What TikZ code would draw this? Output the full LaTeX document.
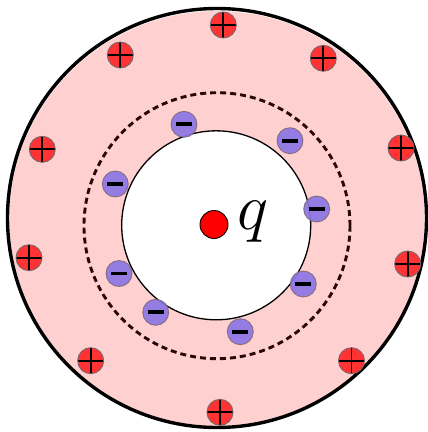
\documentclass[tikz,border=0pt]{standalone}
\usepackage{tikz}
\definecolor{shellpink}{RGB}{255,208,208}
\definecolor{chargered}{RGB}{255,51,51}
\definecolor{chargeblue}{RGB}{140,118,228}
\definecolor{dashbrown}{RGB}{40,8,8}
\definecolor{rimgray}{RGB}{120,100,105}
\tikzset{
  pluscharge/.style={circle, minimum size=26pt, inner sep=0pt, fill=chargered,
    draw=rimgray, line width=0.9pt,
    path picture={
      \draw[line width=1.8pt, black] (path picture bounding box.north) -- (path picture bounding box.south);
      \draw[line width=1.8pt, black] (path picture bounding box.west) -- (path picture bounding box.east);
    }},
  minuscharge/.style={circle, minimum size=26pt, inner sep=0pt, fill=chargeblue, fill opacity=0.93,
    draw=rimgray, draw opacity=0.8, line width=0.9pt,
    path picture={
      \fill[black, fill opacity=1] ([shift={(-8pt,-1.9pt)}]path picture bounding box.center) rectangle ([shift={(8pt,1.9pt)}]path picture bounding box.center);
    }},
  pointcharge/.style={circle, minimum size=28pt, inner sep=0pt, fill=red, draw=black, line width=0.9pt},
}
\begin{document}
\begin{tikzpicture}[x=1pt, y=-1pt]
\useasboundingbox (0,0) rectangle (428,432);
% conductor shell
\fill[shellpink] (217,218.5) circle (207.5);
\draw[line width=3.4pt, black] (217,218) circle (209.5);
% cavity
\fill[white] (216.2,225.3) circle (94.5);
\draw[line width=1.3pt, black] (216.2,225.3) circle (94.5);
% gaussian surface
\draw[line width=2.9pt, dashbrown, dash pattern=on 6pt off 4pt] (217,225.7) circle (133);
% point charge
\node[pointcharge] (q0) at (214,224.5) {};
\node[inner sep=0pt, scale=2.65] (ql) at (252.5,221.5) {\Huge$q$};
% induced negative charges
\node[minuscharge] (m1) at (184,124.3) {};
\node[minuscharge] (m2) at (290,140.7) {};
\node[minuscharge] (m3) at (115.3,184) {};
\node[minuscharge] (m4) at (316.7,209) {};
\node[minuscharge] (m5) at (119,273.5) {};
\node[minuscharge] (m6) at (303.3,284) {};
\node[minuscharge] (m7) at (155.7,312.3) {};
\node[minuscharge] (m8) at (240.3,331.7) {};
% outer positive charges
\node[pluscharge] (p1) at (223.3,25) {};
\node[pluscharge] (p2) at (120.3,55) {};
\node[pluscharge] (p3) at (323.3,58.3) {};
\node[pluscharge] (p4) at (42.3,149.3) {};
\node[pluscharge] (p5) at (401,148) {};
\node[pluscharge] (p6) at (29,257.7) {};
\node[pluscharge] (p7) at (407.7,264) {};
\node[pluscharge] (p8) at (90.7,360.7) {};
\node[pluscharge] (p9) at (351.5,360.7) {};
\node[pluscharge] (p10) at (220,412.3) {};
\end{tikzpicture}
\end{document}
